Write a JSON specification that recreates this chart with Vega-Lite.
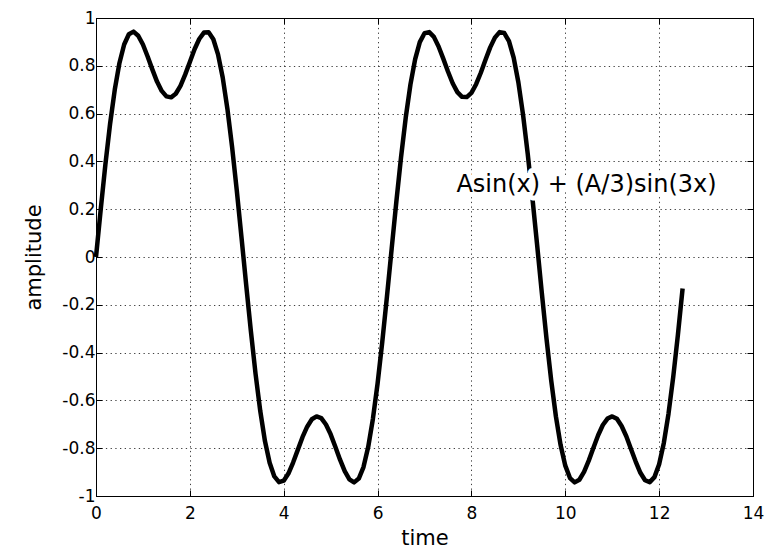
{
  "$schema": "https://vega.github.io/schema/vega-lite/v6.json",
  "width": 657,
  "height": 478,
  "autosize": {"type": "none"},
  "padding": {"left": 96, "top": 18, "right": 13, "bottom": 55},
  "background": "white",
  "config": {
    "view": {"stroke": "black", "strokeWidth": 1},
    "font": "DejaVu Sans",
    "axis": {
      "labelFont": "DejaVu Sans",
      "titleFont": "DejaVu Sans",
      "labelColor": "black",
      "titleColor": "black",
      "labelFontSize": 17,
      "titleFontSize": 21,
      "titleFontWeight": "normal",
      "domainColor": "black",
      "tickColor": "black",
      "tickSize": -6,
      "gridColor": "black",
      "gridOpacity": 0.75,
      "gridDash": [1.3, 3.4],
      "gridWidth": 1
    }
  },
  "datasets": {
    "curve": [
      {"time": 0.0, "amplitude": 0},
      {"time": 0.1, "amplitude": 0.198},
      {"time": 0.2, "amplitude": 0.387},
      {"time": 0.3, "amplitude": 0.557},
      {"time": 0.4, "amplitude": 0.700},
      {"time": 0.5, "amplitude": 0.812},
      {"time": 0.6, "amplitude": 0.889},
      {"time": 0.7, "amplitude": 0.932},
      {"time": 0.8, "amplitude": 0.943},
      {"time": 0.9, "amplitude": 0.926},
      {"time": 1.0, "amplitude": 0.889},
      {"time": 1.1, "amplitude": 0.839},
      {"time": 1.2, "amplitude": 0.785},
      {"time": 1.3, "amplitude": 0.734},
      {"time": 1.4, "amplitude": 0.695},
      {"time": 1.5, "amplitude": 0.672},
      {"time": 1.6, "amplitude": 0.668},
      {"time": 1.7, "amplitude": 0.683},
      {"time": 1.8, "amplitude": 0.716},
      {"time": 1.9, "amplitude": 0.763},
      {"time": 2.0, "amplitude": 0.816},
      {"time": 2.1, "amplitude": 0.869},
      {"time": 2.2, "amplitude": 0.912},
      {"time": 2.3, "amplitude": 0.939},
      {"time": 2.4, "amplitude": 0.940},
      {"time": 2.5, "amplitude": 0.911},
      {"time": 2.6, "amplitude": 0.848},
      {"time": 2.7, "amplitude": 0.751},
      {"time": 2.8, "amplitude": 0.620},
      {"time": 2.9, "amplitude": 0.460},
      {"time": 3.0, "amplitude": 0.278},
      {"time": 3.1, "amplitude": 0.083},
      {"time": 3.2, "amplitude": -0.116},
      {"time": 3.3, "amplitude": -0.310},
      {"time": 3.4, "amplitude": -0.489},
      {"time": 3.5, "amplitude": -0.644},
      {"time": 3.6, "amplitude": -0.770},
      {"time": 3.7, "amplitude": -0.861},
      {"time": 3.8, "amplitude": -0.918},
      {"time": 3.9, "amplitude": -0.942},
      {"time": 4.0, "amplitude": -0.936},
      {"time": 4.1, "amplitude": -0.906},
      {"time": 4.2, "amplitude": -0.860},
      {"time": 4.3, "amplitude": -0.807},
      {"time": 4.4, "amplitude": -0.754},
      {"time": 4.5, "amplitude": -0.710},
      {"time": 4.6, "amplitude": -0.679},
      {"time": 4.7, "amplitude": -0.667},
      {"time": 4.8, "amplitude": -0.674},
      {"time": 4.9, "amplitude": -0.701},
      {"time": 5.0, "amplitude": -0.742},
      {"time": 5.1, "amplitude": -0.794},
      {"time": 5.2, "amplitude": -0.848},
      {"time": 5.3, "amplitude": -0.896},
      {"time": 5.4, "amplitude": -0.930},
      {"time": 5.5, "amplitude": -0.943},
      {"time": 5.6, "amplitude": -0.927},
      {"time": 5.7, "amplitude": -0.879},
      {"time": 5.8, "amplitude": -0.795},
      {"time": 5.9, "amplitude": -0.678},
      {"time": 6.0, "amplitude": -0.530},
      {"time": 6.1, "amplitude": -0.356},
      {"time": 6.2, "amplitude": -0.165},
      {"time": 6.3, "amplitude": 0.034},
      {"time": 6.4, "amplitude": 0.231},
      {"time": 6.5, "amplitude": 0.417},
      {"time": 6.6, "amplitude": 0.583},
      {"time": 6.7, "amplitude": 0.721},
      {"time": 6.8, "amplitude": 0.827},
      {"time": 6.9, "amplitude": 0.899},
      {"time": 7.0, "amplitude": 0.936},
      {"time": 7.1, "amplitude": 0.941},
      {"time": 7.2, "amplitude": 0.921},
      {"time": 7.3, "amplitude": 0.881},
      {"time": 7.4, "amplitude": 0.830},
      {"time": 7.5, "amplitude": 0.776},
      {"time": 7.6, "amplitude": 0.727},
      {"time": 7.7, "amplitude": 0.690},
      {"time": 7.8, "amplitude": 0.670},
      {"time": 7.9, "amplitude": 0.669},
      {"time": 8.0, "amplitude": 0.687},
      {"time": 8.1, "amplitude": 0.723},
      {"time": 8.2, "amplitude": 0.771},
      {"time": 8.3, "amplitude": 0.825},
      {"time": 8.4, "amplitude": 0.877},
      {"time": 8.5, "amplitude": 0.918},
      {"time": 8.6, "amplitude": 0.941},
      {"time": 8.7, "amplitude": 0.937},
      {"time": 8.8, "amplitude": 0.903},
      {"time": 8.9, "amplitude": 0.834},
      {"time": 9.0, "amplitude": 0.731},
      {"time": 9.1, "amplitude": 0.595},
      {"time": 9.2, "amplitude": 0.431},
      {"time": 9.3, "amplitude": 0.246},
      {"time": 9.4, "amplitude": 0.050},
      {"time": 9.5, "amplitude": -0.150},
      {"time": 9.6, "amplitude": -0.342},
      {"time": 9.7, "amplitude": -0.517},
      {"time": 9.8, "amplitude": -0.667},
      {"time": 9.9, "amplitude": -0.787},
      {"time": 10.0, "amplitude": -0.873},
      {"time": 10.1, "amplitude": -0.925},
      {"time": 10.2, "amplitude": -0.943},
      {"time": 10.3, "amplitude": -0.932},
      {"time": 10.4, "amplitude": -0.899},
      {"time": 10.5, "amplitude": -0.852},
      {"time": 10.6, "amplitude": -0.798},
      {"time": 10.7, "amplitude": -0.746},
      {"time": 10.8, "amplitude": -0.703},
      {"time": 10.9, "amplitude": -0.676},
      {"time": 11.0, "amplitude": -0.667},
      {"time": 11.1, "amplitude": -0.677},
      {"time": 11.2, "amplitude": -0.707},
      {"time": 11.3, "amplitude": -0.750},
      {"time": 11.4, "amplitude": -0.803},
      {"time": 11.5, "amplitude": -0.856},
      {"time": 11.6, "amplitude": -0.903},
      {"time": 11.7, "amplitude": -0.934},
      {"time": 11.8, "amplitude": -0.942},
      {"time": 11.9, "amplitude": -0.921},
      {"time": 12.0, "amplitude": -0.867},
      {"time": 12.1, "amplitude": -0.778},
      {"time": 12.2, "amplitude": -0.655},
      {"time": 12.3, "amplitude": -0.502},
      {"time": 12.4, "amplitude": -0.325},
      {"time": 12.5, "amplitude": -0.132}
    ],
    "label": [
      {"time": 7.68, "amplitude": 0.3, "text": "Asin(x) + (A/3)sin(3x)"}
    ]
  },
  "resolve": {"axis": {"x": "independent", "y": "independent"}},
  "layer": [
    {
      "data": {"name": "curve"},
      "mark": {"type": "line", "color": "black", "strokeWidth": 4.5, "strokeJoin": "round", "strokeCap": "butt"},
      "encoding": {
        "x": {
          "field": "time", "type": "quantitative",
          "scale": {"domain": [0, 14], "nice": false, "zero": false},
          "axis": {
            "title": "time", "orient": "bottom",
            "values": [0, 2, 4, 6, 8, 10, 12, 14],
            "labelExpr": "'' + datum.value",
            "labelPadding": 15, "titlePadding": 6,
            "grid": true, "labelFlush": false
          }
        },
        "y": {
          "field": "amplitude", "type": "quantitative",
          "scale": {"domain": [-1, 1], "nice": false, "zero": false},
          "axis": {
            "title": "amplitude", "orient": "left",
            "values": [-1, -0.8, -0.6, -0.4, -0.2, 0, 0.2, 0.4, 0.6, 0.8, 1],
            "labelExpr": "'' + datum.value",
            "labelPadding": 7, "titlePadding": 17,
            "grid": true, "labelFlush": false
          }
        }
      }
    },
    {
      "data": {"name": "curve"},
      "mark": {"type": "point", "opacity": 0},
      "encoding": {
        "x": {
          "field": "time", "type": "quantitative",
          "axis": {
            "title": null, "orient": "top", "labels": false, "grid": false,
            "values": [0, 2, 4, 6, 8, 10, 12, 14]
          }
        },
        "y": {
          "field": "amplitude", "type": "quantitative",
          "axis": {
            "title": null, "orient": "right", "labels": false, "grid": false,
            "values": [-1, -0.8, -0.6, -0.4, -0.2, 0, 0.2, 0.4, 0.6, 0.8, 1]
          }
        }
      }
    },
    {
      "data": {"name": "label"},
      "mark": {"type": "text", "align": "left", "baseline": "middle", "font": "DejaVu Sans", "fontSize": 24, "stroke": "white", "strokeWidth": 10, "strokeJoin": "round", "fill": "white"},
      "encoding": {
        "x": {"field": "time", "type": "quantitative", "axis": null},
        "y": {"field": "amplitude", "type": "quantitative", "axis": null},
        "text": {"field": "text"}
      }
    },
    {
      "data": {"name": "label"},
      "mark": {"type": "text", "align": "left", "baseline": "middle", "font": "DejaVu Sans", "fontSize": 24, "color": "black"},
      "encoding": {
        "x": {"field": "time", "type": "quantitative", "axis": null},
        "y": {"field": "amplitude", "type": "quantitative", "axis": null},
        "text": {"field": "text"}
      }
    }
  ]
}
